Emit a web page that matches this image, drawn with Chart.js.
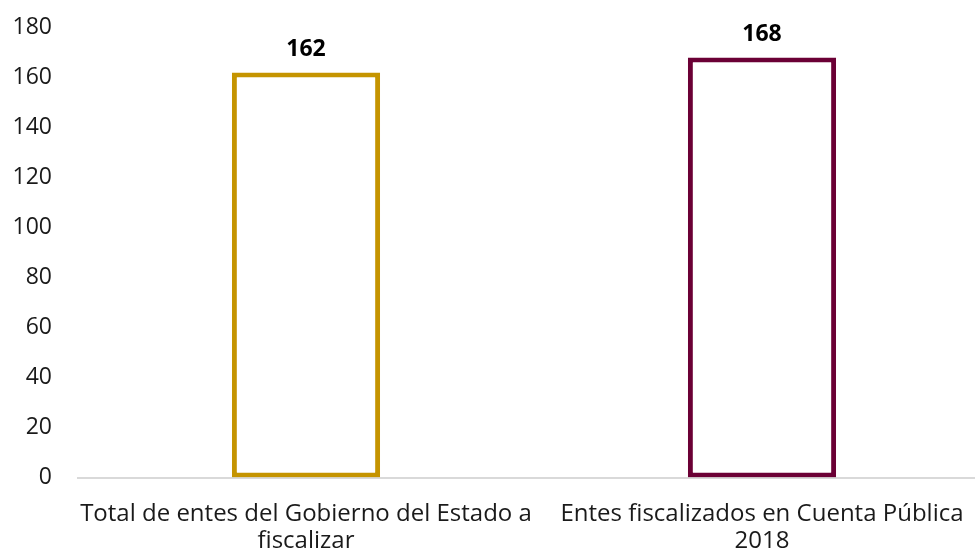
<!DOCTYPE html>
<html>
<head>
<meta charset="utf-8">
<script src="https://cdn.jsdelivr.net/npm/chart.js@4"></script>
<style>
  html, body { margin: 0; padding: 0; background: #fff; overflow: hidden; }
  #wrap { width: 990px; height: 560px; }
</style>
</head>
<body>
<div id="wrap"><canvas id="barChart" width="990" height="560"></canvas></div>
<script>
const categories = [
  ['Total de entes del Gobierno del Estado a', 'fiscalizar'],
  ['Entes fiscalizados en Cuenta Pública', '2018']
];
const values = [162, 168];
const barColors = ['#C59400', '#6B0035'];
const yTicks = [0, 20, 40, 60, 80, 100, 120, 140, 160, 180];

const FONT = "'Open Sans', sans-serif";

// numbers above the bars
const valueLabels = {
  id: 'valueLabels',
  afterDatasetsDraw(chart) {
    const ctx = chart.ctx;
    const meta = chart.getDatasetMeta(0);
    ctx.save();
    ctx.font = "bold 23px " + FONT;
    ctx.fillStyle = '#000';
    ctx.textAlign = 'center';
    ctx.textBaseline = 'middle';
    meta.data.forEach((bar, i) => {
      ctx.fillText(values[i], bar.x, bar.y - 23);
    });
    ctx.restore();
  }
};

const barCtx = document.getElementById('barChart').getContext('2d');
const barChart = new Chart(barCtx, {
  type: 'bar',
  data: {
    labels: categories,
    datasets: [{
      data: values,
      backgroundColor: '#fff',
      borderColor: barColors,
      borderWidth: 5,
      borderSkipped: false,
      categoryPercentage: 1,
      barPercentage: 0.325
    }]
  },
  options: {
    responsive: false,
    animation: false,
    layout: { padding: { left: 12, top: 27.5, right: 0, bottom: 0 } },
    plugins: {
      legend: { display: false },
      tooltip: { enabled: false }
    },
    scales: {
      x: {
        grid: { display: false, drawTicks: false },
        border: { display: true, color: '#d9d9d9', width: 2 },
        ticks: {
          color: '#1a1a1a',
          font: { family: FONT, size: 24, lineHeight: 1.12 },
          padding: 23,
          maxRotation: 0,
          autoSkip: false
        },
        afterFit: (scale) => {
          scale.paddingLeft = 0;
          scale.paddingRight = 0;
          scale.height = 82.5;
        }
      },
      y: {
        min: 0,
        max: 180,
        afterBuildTicks: (scale) => { scale.ticks = yTicks.map(v => ({ value: v })); },
        grid: { display: false, drawTicks: false },
        border: { display: false },
        ticks: {
          color: '#1a1a1a',
          font: { family: FONT, size: 23 },
          padding: 26
        },
        afterFit: (scale) => {
          scale.paddingTop = 0;
          scale.paddingBottom = 0;
          scale.width = 66;
        }
      }
    }
  },
  plugins: [valueLabels]
});
</script>
</body>
</html>
